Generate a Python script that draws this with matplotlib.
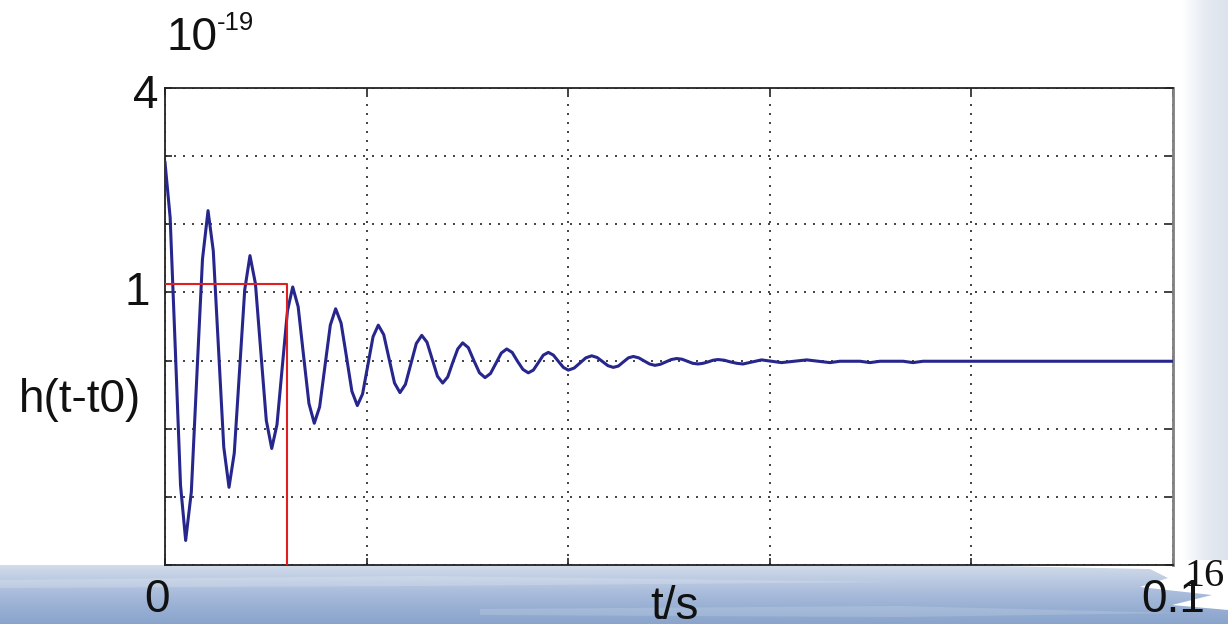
import numpy as np
import matplotlib.pyplot as plt
from matplotlib.colors import LinearSegmentedColormap
from matplotlib.patches import Polygon

# waveform h(t - t0) (x axis runs 0 .. 0.1, y axis -3 .. 4)
t_vals = [
    0.00000, 0.00051, 0.00103, 0.00154,
    0.00205, 0.00261, 0.00316, 0.00372,
    0.00427, 0.00479, 0.00531, 0.00583,
    0.00635, 0.00687, 0.00739, 0.00791,
    0.00843, 0.00897, 0.00951, 0.01005,
    0.01059, 0.01111, 0.01163, 0.01215,
    0.01267, 0.01321, 0.01374, 0.01428,
    0.01481, 0.01534, 0.01587, 0.01640,
    0.01693, 0.01747, 0.01801, 0.01854,
    0.01908, 0.01960, 0.02012, 0.02064,
    0.02116, 0.02170, 0.02224, 0.02277,
    0.02331, 0.02385, 0.02439, 0.02493,
    0.02547, 0.02599, 0.02651, 0.02703,
    0.02755, 0.02805, 0.02854, 0.02904,
    0.02953, 0.03009, 0.03064, 0.03120,
    0.03175, 0.03229, 0.03283, 0.03336,
    0.03390, 0.03444, 0.03497, 0.03551,
    0.03604, 0.03654, 0.03704, 0.03753,
    0.03803, 0.03853, 0.03902, 0.03952,
    0.04001, 0.04059, 0.04117, 0.04175,
    0.04233, 0.04287, 0.04341, 0.04394,
    0.04448, 0.04498, 0.04547, 0.04597,
    0.04646, 0.04700, 0.04753, 0.04807,
    0.04860, 0.04914, 0.04968, 0.05022,
    0.05076, 0.05129, 0.05182, 0.05235,
    0.05288, 0.05338, 0.05387, 0.05437,
    0.05486, 0.05548, 0.05610, 0.05672,
    0.05734, 0.05826, 0.05918, 0.06017,
    0.06116, 0.06241, 0.06366, 0.06481,
    0.06597, 0.06696, 0.06796, 0.06895,
    0.06994, 0.07093, 0.07322, 0.07421,
    0.07520, 0.10000,
]
h_vals = [
    2.91, 2.10, 0.14, -1.83,
    -2.64, -1.93, -0.22, 1.49,
    2.20, 1.61, 0.17, -1.27,
    -1.86, -1.36, -0.16, 1.04,
    1.54, 1.13, 0.12, -0.88,
    -1.29, -0.94, -0.10, 0.73,
    1.08, 0.79, 0.08, -0.63,
    -0.92, -0.68, -0.08, 0.52,
    0.76, 0.55, 0.05, -0.45,
    -0.66, -0.49, -0.07, 0.35,
    0.52, 0.38, 0.02, -0.33,
    -0.47, -0.35, -0.05, 0.25,
    0.37, 0.27, 0.02, -0.23,
    -0.33, -0.24, -0.03, 0.17,
    0.26, 0.19, 0.00, -0.18,
    -0.25, -0.19, -0.04, 0.11,
    0.17, 0.12, -0.01, -0.13,
    -0.18, -0.14, -0.03, 0.08,
    0.12, 0.08, -0.01, -0.10,
    -0.14, -0.11, -0.035, 0.04,
    0.07, 0.045, -0.015, -0.075,
    -0.10, -0.08, -0.02, 0.04,
    0.06, 0.04, -0.005, -0.05,
    -0.07, -0.055, -0.02, 0.015,
    0.03, 0.02, -0.01, -0.04,
    -0.05, -0.04, -0.02, 0.005,
    0.015, 0.005, -0.02, -0.04,
    -0.05, -0.02, 0.01, -0.01,
    -0.03, -0.01, 0.01, -0.01,
    -0.03, -0.01, -0.01, -0.01,
    -0.03, -0.01, -0.01, -0.03,
    -0.01, -0.01,
]

# red marker lines
red_t = [0.0, 0.0121, 0.0121]
red_h = [1.125, 1.125, -3.0]

x_ticks = [0, 0.02, 0.04, 0.06, 0.08, 0.1]
y_ticks = [-3, -2, -1, 0, 1, 2, 3, 4]

W, H = 1228, 624
fig = plt.figure(figsize=(W / 100, H / 100), dpi=100)
fig.patch.set_facecolor('white')

# background: brush stroke along the bottom and a pale strip on the right
bg = fig.add_axes([0, 0, 1, 1], zorder=0)
bg.set_xlim(0, W)
bg.set_ylim(H, 0)
bg.axis('off')

stroke_cmap = LinearSegmentedColormap.from_list(
    'stroke', ['#d6dfec', '#bfcde3', '#a9bcdb', '#97afd3', '#8ba4cc'])
grad = np.linspace(0, 1, 100).reshape(-1, 1)
im = bg.imshow(grad, cmap=stroke_cmap, extent=(0, W, H, 562), aspect='auto', zorder=1)
stroke = Polygon([(0, 565), (600, 565), (1000, 566), (1150, 569), (1168, 578), (1140, 587),
                  (1212, 595), (1172, 605), (1228, 610), (1228, H), (0, H)],
                 closed=True, transform=bg.transData, facecolor='none', edgecolor='none')
bg.add_patch(stroke)
im.set_clip_path(stroke)
# lighter streaks inside the stroke
for pts, a in [([(0, 580), (420, 576), (900, 582), (420, 586), (0, 588)], 0.18),
               ([(480, 609), (900, 606), (1180, 613), (900, 617), (480, 615)], 0.15)]:
    bg.add_patch(Polygon(pts, closed=True, facecolor='white', edgecolor='none', alpha=a, zorder=2))

side_cmap = LinearSegmentedColormap.from_list('side', ['#ffffff', '#e6ebf2', '#dde3ec'])
bg.imshow(np.linspace(0, 1, 50).reshape(1, -1), cmap=side_cmap,
          extent=(1182, W, 560, 0), aspect='auto', zorder=1)

# main plot
ax = fig.add_axes([165 / W, 1 - 565 / H, 1008 / W, 477 / H], zorder=2)
ax.set_facecolor('white')
ax.plot(t_vals, h_vals, color='#26268c', lw=2.2, zorder=3)
ax.plot(red_t, red_h, color='#e02020', lw=1.5, zorder=4)

ax.set_xlim(0, 0.1)
ax.set_ylim(-3, 4)
ax.set_xticks(x_ticks)
ax.set_yticks(y_ticks)
ax.set_xticklabels([])
ax.set_yticklabels([])
ax.tick_params(direction='in', length=5, width=1.2, top=True, right=True, color='#222222')
ax.grid(True, color='#222222', linestyle=(0, (1.2, 4.2)), linewidth=1.2)
for side in ['left', 'top', 'bottom']:
    ax.spines[side].set_color('#222222')
    ax.spines[side].set_linewidth(1.3)
ax.spines['right'].set_color('#808080')
ax.spines['right'].set_linewidth(2.0)

# labels placed like the original slide text
def px(x, y):
    return x / W, 1 - y / H

font = 'Liberation Sans'
ink = '#111111'
fig.text(*px(166, 50), '10', fontsize=33, family=font, va='baseline', ha='left', color=ink)
fig.text(*px(217, 30), '-19', fontsize=18.5, family=font, va='baseline', ha='left', color=ink)
fig.text(*px(159, 108), '4', fontsize=33, family=font, va='baseline', ha='right', color=ink)
fig.text(*px(150, 305), '1', fontsize=33, family=font, va='baseline', ha='right', color=ink)
fig.text(*px(19, 412), 'h(t-t0)', fontsize=33, family=font, va='baseline', ha='left', color=ink)
fig.text(*px(144, 612), '0', fontsize=33, family=font, va='baseline', ha='left', color=ink)
fig.text(*px(650, 619), 't/s', fontsize=33, family=font, va='baseline', ha='left', color=ink)
fig.text(*px(1141, 612), '0.1', fontsize=33, family=font, va='baseline', ha='left', color=ink)
fig.text(*px(1184, 586), '16', fontsize=29, family='Liberation Serif', va='baseline', ha='left',
         color=ink)

fig.savefig('out.png', dpi=100)
